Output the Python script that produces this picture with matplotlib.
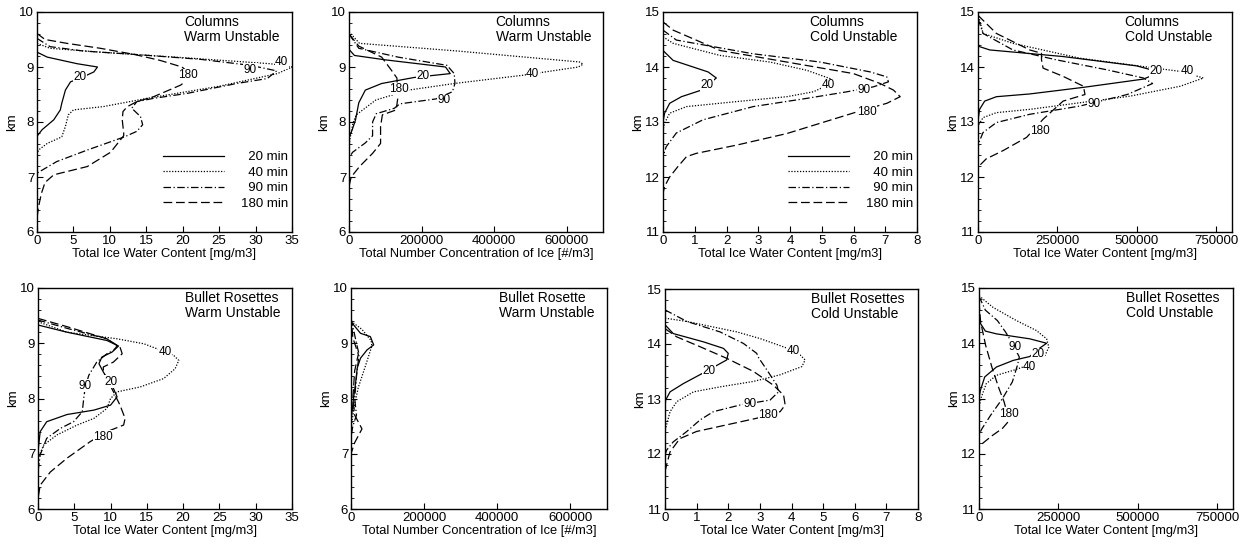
import matplotlib
matplotlib.use("Agg")
import matplotlib.pyplot as plt
from matplotlib.ticker import MultipleLocator

plt.rcParams['font.family'] = ['Liberation Sans', 'DejaVu Sans']

# profiles: (value, km)
# columns, warm unstable, ice water content
cw_iwc_20 = [(0, 9.27), (1.4, 9.18), (5.5, 9.06), (8.3, 9.0), (7.8, 8.91), (6, 8.8), (4.6, 8.73), (3.9, 8.58),
             (3.4, 8.34), (3.2, 8.22), (2.3, 8.04), (0.7, 7.86), (0, 7.74)]
cw_iwc_40 = [(0, 9.43), (1.8, 9.34), (8.7, 9.27), (20, 9.17), (32, 9.06), (35, 9.0), (33, 8.88), (25, 8.65),
             (15.1, 8.43), (9.1, 8.28), (5, 8.22), (4.3, 8.13), (3.9, 7.92), (3.4, 7.73), (1.4, 7.61), (0.2, 7.49),
             (0, 7.4)]
cw_iwc_90 = [(0, 9.52), (1.8, 9.37), (6.4, 9.29), (13.3, 9.23), (22.4, 9.14), (29.3, 9.03), (32.9, 8.93),
             (31.6, 8.79), (27.4, 8.7), (20.6, 8.52), (16, 8.43), (13.7, 8.37), (13, 8.25), (14.2, 8.1),
             (14.5, 7.95), (13.7, 7.83), (12, 7.73), (6.9, 7.49), (2.7, 7.28), (0, 7.07)]
cw_iwc_180 = [(0, 9.61), (1.1, 9.5), (4.1, 9.43), (8.7, 9.34), (13.3, 9.23), (16.9, 9.12), (19.9, 9.0),
              (20.8, 8.9), (21.2, 8.82), (19.7, 8.67), (16, 8.46), (13.7, 8.37), (12.4, 8.28), (11.8, 8.19),
              (11.7, 8.04), (11.9, 7.8), (11.9, 7.75), (10.1, 7.45), (6.9, 7.19), (2.3, 7.04), (1.1, 6.9),
              (0.6, 6.7), (0.2, 6.45), (0, 6.25)]

# columns, warm unstable, number concentration
cw_num_20 = [(0, 9.32), (15e3, 9.21), (100e3, 9.13), (266e3, 9.0), (279e3, 8.88), (180e3, 8.81), (90e3, 8.70),
             (45e3, 8.58), (27e3, 8.35), (18e3, 8.04), (9e3, 7.86), (2e3, 7.75), (0, 7.7)]
cw_num_40 = [(0, 9.64), (29e3, 9.43), (300e3, 9.29), (637e3, 9.09), (645e3, 9.05), (632e3, 9.0), (479e3, 8.85),
             (290e3, 8.7), (164e3, 8.58), (74e3, 8.4), (20e3, 8.13), (11e3, 7.98), (2e3, 7.67), (0, 7.37)]
cw_num_90 = [(0, 9.6), (27e3, 9.34), (135e3, 9.18), (270e3, 9.03), (290e3, 8.88), (292e3, 8.7), (285e3, 8.55),
             (240e3, 8.42), (140e3, 8.33), (125e3, 8.25), (75e3, 8.15), (65e3, 8.0), (65e3, 7.75), (45e3, 7.62),
             (10e3, 7.45), (0, 7.35)]
cw_num_180 = [(0, 9.6), (27e3, 9.38), (90e3, 9.18), (117e3, 8.94), (132e3, 8.8), (135e3, 8.46), (130e3, 8.22),
              (92e3, 8.13), (87e3, 7.92), (87e3, 7.61), (65e3, 7.43), (29e3, 7.19), (6e3, 7.0), (0, 6.83)]

# columns, cold unstable, ice water content
cc_iwc_20 = [(0, 14.3), (0.32, 14.12), (0.95, 14.0), (1.42, 13.91), (1.68, 13.8), (1.21, 13.58), (0.58, 13.46),
             (0.21, 13.34), (0.05, 13.16), (0, 13.0)]
cc_iwc_40 = [(0, 14.55), (0.32, 14.43), (1.8, 14.21), (3.37, 14.09), (4.53, 13.94), (5.26, 13.79), (5.3, 13.7),
             (4.74, 13.55), (3.9, 13.46), (2.3, 13.37), (0.74, 13.28), (0.21, 13.16), (0.05, 12.98), (0, 12.85)]
cc_iwc_90 = [(0, 14.67), (0.42, 14.49), (2.84, 14.24), (4.95, 14.09), (6.53, 13.91), (7.05, 13.82), (7.1, 13.73),
             (6.63, 13.64), (5.8, 13.55), (4.53, 13.43), (2.84, 13.28), (1.26, 13.04), (0.42, 12.8), (0.1, 12.55),
             (0, 12.37)]
cc_iwc_180 = [(0, 14.82), (0.32, 14.67), (1.8, 14.3), (3.9, 14.09), (6.0, 13.88), (6.84, 13.7), (7.26, 13.58),
              (7.47, 13.46), (7.05, 13.34), (6.2, 13.2), (5.47, 13.07), (3.9, 12.79), (2.32, 12.58), (1.05, 12.43),
              (0.74, 12.37), (0.47, 12.19), (0.21, 12.0), (0.05, 11.83), (0, 11.7)]

# columns, cold unstable, number
cc_num_20 = [(0, 14.42), (5e3, 14.37), (37e3, 14.31), (268e3, 14.19), (500e3, 14.02), (545e3, 13.95),
             (550e3, 13.85), (521e3, 13.78), (332e3, 13.63), (163e3, 13.51), (58e3, 13.46), (21e3, 13.38),
             (5e3, 13.23), (0, 13.02)]
cc_num_40 = [(0, 14.97), (16e3, 14.61), (110e3, 14.43), (321e3, 14.16), (532e3, 14.0), (637e3, 13.92),
             (710e3, 13.8), (637e3, 13.65), (479e3, 13.47), (321e3, 13.35), (163e3, 13.23), (58e3, 13.17),
             (16e3, 13.08), (0, 12.93)]
cc_num_90 = [(0, 14.88), (16e3, 14.61), (110e3, 14.31), (247e3, 14.13), (405e3, 13.95), (521e3, 13.8),
             (550e3, 13.7), (470e3, 13.5), (321e3, 13.29), (163e3, 13.14), (58e3, 12.99), (16e3, 12.81),
             (3e3, 12.63), (0, 12.51)]
cc_num_180 = [(0, 14.94), (58e3, 14.61), (163e3, 14.31), (200e3, 14.25), (200e3, 14.13), (205e3, 13.98),
              (268e3, 13.83), (332e3, 13.65), (337e3, 13.5), (268e3, 13.38), (205e3, 13.05), (153e3, 12.72),
              (79e3, 12.48), (26e3, 12.33), (0, 12.18)]

# bullet rosettes, warm unstable, ice water content
bw_iwc_20 = [(0, 9.33), (4, 9.2), (9.5, 9.05), (11.1, 8.95), (10.2, 8.84), (8.8, 8.75), (8.4, 8.63), (9, 8.48),
             (10.4, 8.18), (10.9, 8.03), (10, 7.88), (7.7, 7.79), (4, 7.71), (1.2, 7.58), (0.3, 7.4), (0, 7.04)]
bw_iwc_40 = [(0, 9.39), (4, 9.2), (10.9, 9.08), (14.6, 8.99), (16.4, 8.9), (18.7, 8.78), (19.4, 8.69),
             (18.9, 8.54), (17.3, 8.36), (14.1, 8.21), (10.9, 8.12), (10, 8.0), (9.5, 7.82), (7.7, 7.64),
             (5.4, 7.52), (2.6, 7.34), (0.8, 7.16), (0, 6.92)]
bw_iwc_90 = [(0, 9.42), (4, 9.27), (9.5, 9.08), (10.9, 8.95), (10.4, 8.87), (9.5, 8.81), (8.1, 8.66), (7, 8.42),
             (6.5, 8.2), (6.3, 8.0), (6.1, 7.76), (4.9, 7.58), (3.1, 7.46), (1.2, 7.28), (0.3, 6.98), (0, 6.67)]
bw_iwc_180 = [(0, 9.45), (4, 9.3), (9.5, 9.08), (11.3, 8.93), (11.6, 8.81), (10.4, 8.66), (9, 8.57), (9, 8.48),
              (9.7, 8.3), (10.4, 8.12), (11.3, 7.88), (12, 7.64), (11.8, 7.52), (9.5, 7.4), (7.2, 7.22),
              (4, 6.92), (1.7, 6.67), (0.3, 6.43), (0, 6.19)]

# bullet rosette, warm unstable, number
bw_num_20 = [(0, 9.39), (26e3, 9.18), (53e3, 9.12), (62e3, 8.97), (44e3, 8.88), (26e3, 8.73), (17e3, 8.55),
             (12e3, 8.25), (7e3, 8.01), (3e3, 7.77), (0, 7.59)]
bw_num_40 = [(0, 9.4), (30e3, 9.25), (55e3, 9.05), (57e3, 8.95), (40e3, 8.6), (20e3, 8.2), (10e3, 7.9),
             (3e3, 7.6), (0, 7.4)]
bw_num_90 = [(0, 9.45), (15e3, 9.0), (22e3, 8.8), (15e3, 8.4), (10e3, 8.0), (15e3, 7.7), (5e3, 7.5), (0, 7.3)]
bw_num_180 = [(0, 9.5), (5e3, 9.1), (20e3, 8.8), (10e3, 8.5), (5e3, 8.0), (10e3, 7.7), (30e3, 7.45),
              (10e3, 7.2), (0, 7.0)]

# bullet rosettes, cold unstable, ice water content
bc_iwc_20 = [(0, 14.35), (0.26, 14.19), (1.21, 14.04), (1.85, 13.92), (2.0, 13.83), (1.95, 13.71), (1.1, 13.44),
             (0.58, 13.28), (0.16, 13.13), (0.02, 12.98), (0, 12.83)]
bc_iwc_40 = [(0, 14.47), (0.69, 14.41), (2.27, 14.22), (3.0, 14.1), (3.64, 13.97), (4.17, 13.86), (4.43, 13.71),
             (4.33, 13.59), (3.64, 13.44), (2.8, 13.32), (1.74, 13.22), (0.9, 13.13), (0.37, 12.95),
             (0.16, 12.77), (0.05, 12.53), (0, 12.41)]
bc_iwc_90 = [(0, 14.62), (0.69, 14.41), (1.74, 14.22), (2.48, 14.01), (2.9, 13.83), (2.96, 13.75),
             (3.22, 13.53), (3.54, 13.25), (3.59, 13.13), (3.32, 12.98), (2.37, 12.89), (1.53, 12.77),
             (1.11, 12.62), (0.69, 12.41), (0.26, 12.22), (0.05, 12.07), (0, 11.98)]
bc_iwc_180 = [(0, 14.28), (0.37, 14.13), (1.11, 13.95), (1.95, 13.74), (2.8, 13.5), (3.43, 13.25), (3.75, 13.07),
              (3.8, 12.89), (3.64, 12.77), (2.9, 12.65), (1.95, 12.53), (1.0, 12.41), (0.47, 12.28),
              (0.16, 12.04), (0.05, 11.8), (0, 11.68)]

# bullet rosettes, cold unstable, number
bc_num_20 = [(0, 14.4), (20e3, 14.22), (55e3, 14.17), (160e3, 14.08), (213e3, 14.0), (181e3, 13.87),
             (160e3, 13.76), (108e3, 13.69), (55e3, 13.57), (18e3, 13.39), (4e3, 13.14), (0, 12.99)]
bc_num_40 = [(0, 14.86), (44e3, 14.65), (118e3, 14.41), (181e3, 14.23), (213e3, 14.08), (220e3, 13.93),
             (208e3, 13.78), (165e3, 13.62), (108e3, 13.51), (55e3, 13.42), (23e3, 13.27), (7e3, 13.02),
             (0, 12.84)]
bc_num_90 = [(0, 14.85), (20e3, 14.6), (58e3, 14.41), (84e3, 14.2), (105e3, 14.0), (127e3, 13.75),
             (121e3, 13.6), (105e3, 13.3), (74e3, 13.0), (37e3, 12.7), (10e3, 12.46), (0, 12.35)]
bc_num_180 = [(0, 14.75), (5e3, 14.39), (21e3, 13.96), (42e3, 13.54), (63e3, 13.18), (79e3, 12.94),
              (95e3, 12.6), (74e3, 12.46), (42e3, 12.33), (16e3, 12.21), (0, 12.13)]

times = [20, 40, 90, 180]
line_styles = {20: '-', 40: (0, (1, 1.3)), 90: (0, (6, 2, 1, 2)), 180: (0, (7, 3))}

iwc_label = 'Total Ice Water Content [mg/m3]'
num_label = 'Total Number Concentration of Ice [#/m3]'

# panel: (series, curve labels (time, x, km), title, xlim, xticks, ylim, xlabel, legend)
panels = [
    ([cw_iwc_20, cw_iwc_40, cw_iwc_90, cw_iwc_180],
     [(20, 5.9, 8.81), (180, 20.7, 8.85), (90, 29.3, 8.95), (40, 33.6, 9.09)],
     'Columns\nWarm Unstable', (0, 35), list(range(0, 36, 5)), (6, 10), iwc_label, True),
    ([cw_num_20, cw_num_40, cw_num_90, cw_num_180],
     [(20, 205e3, 8.83), (180, 137e3, 8.6), (90, 263e3, 8.4), (40, 506e3, 8.87)],
     'Columns\nWarm Unstable', (0, 700000), [0, 200000, 400000, 600000], (6, 10), num_label, False),
    ([cc_iwc_20, cc_iwc_40, cc_iwc_90, cc_iwc_180],
     [(20, 1.39, 13.68), (40, 5.21, 13.67), (90, 6.32, 13.58), (180, 6.42, 13.19)],
     'Columns\nCold Unstable', (0, 8), list(range(0, 9)), (11, 15), iwc_label, True),
    ([cc_num_20, cc_num_40, cc_num_90, cc_num_180],
     [(20, 561e3, 13.92), (40, 660e3, 13.92), (90, 365e3, 13.32), (180, 195e3, 12.84)],
     'Columns\nCold Unstable', (0, 800000), [0, 250000, 500000, 750000], (11, 15), iwc_label, False),
    ([bw_iwc_20, bw_iwc_40, bw_iwc_90, bw_iwc_180],
     [(40, 17.5, 8.84), (90, 6.5, 8.23), (20, 10.1, 8.3), (180, 9.0, 7.31)],
     'Bullet Rosettes\nWarm Unstable', (0, 35), list(range(0, 36, 5)), (6, 10), iwc_label, False),
    ([bw_num_20, bw_num_40, bw_num_90, bw_num_180],
     [],
     'Bullet Rosette\nWarm Unstable', (0, 700000), [0, 200000, 400000, 600000], (6, 10), num_label, False),
    ([bc_iwc_20, bc_iwc_40, bc_iwc_90, bc_iwc_180],
     [(40, 4.06, 13.87), (20, 1.4, 13.5), (90, 2.69, 12.91), (180, 3.27, 12.7)],
     'Bullet Rosettes\nCold Unstable', (0, 8), list(range(0, 9)), (11, 15), iwc_label, False),
    ([bc_num_20, bc_num_40, bc_num_90, bc_num_180],
     [(90, 113e3, 13.94), (20, 185e3, 13.8), (40, 160e3, 13.57), (180, 94e3, 12.72)],
     'Bullet Rosettes\nCold Unstable', (0, 800000), [0, 250000, 500000, 750000], (11, 15), iwc_label, False),
]

# axes boxes in pixels (left, right, top, bottom)
boxes = [(37, 292, 12, 232), (349, 603, 12, 232), (663, 917, 12, 232), (978, 1232, 12, 232),
         (38, 292, 288, 509), (351, 607, 288, 509), (665, 918, 289, 509), (979, 1233, 288, 509)]

W, H = 1247, 544
fig = plt.figure(figsize=(W / 100, H / 100), dpi=100)

for (series, labels, title, xlim, xticks, ylim, xlabel, show_leg), (l, r, t, b) in zip(panels, boxes):
    ax = fig.add_axes([l / W, 1 - b / H, (r - l) / W, (b - t) / H])
    for tm, pts in zip(times, series):
        xs = [p[0] for p in pts]
        ys = [p[1] for p in pts]
        name = ('  %d min' % tm) if tm < 100 else ('%d min' % tm)
        ax.plot(xs, ys, color='black', lw=0.9, linestyle=line_styles[tm], label=name)
    for tm, x, y in labels:
        ax.text(x, y, str(tm), fontsize=8.5, ha='center', va='center',
                bbox=dict(facecolor='white', edgecolor='none', pad=0.3))
    ax.set_xlim(*xlim)
    ax.set_ylim(*ylim)
    ax.set_xticks(xticks)
    ax.set_xticklabels([str(v) for v in xticks])
    ax.yaxis.set_major_locator(MultipleLocator(1))
    ax.yaxis.set_minor_locator(MultipleLocator(0.2))
    ax.tick_params(direction='in', length=4, width=0.8, labelsize=9.5, pad=2)
    ax.tick_params(which='minor', direction='in', length=2, width=0.6)
    for s in ax.spines.values():
        s.set_linewidth(1.0)
    ax.set_xlabel(xlabel, fontsize=9.3, labelpad=1)
    ax.set_ylabel('km', fontsize=9.5, labelpad=1)
    ax.text(0.577, 0.985, title, transform=ax.transAxes, ha='left', va='top',
            fontsize=10, linespacing=1.05)
    if show_leg:
        ax.legend(loc='lower right', bbox_to_anchor=(0.985, 0.1), frameon=False, fontsize=9.5,
                  handlelength=4.6, handletextpad=1.3, labelspacing=0.25, borderpad=0, borderaxespad=0)

fig.savefig('out.png', dpi=100)
